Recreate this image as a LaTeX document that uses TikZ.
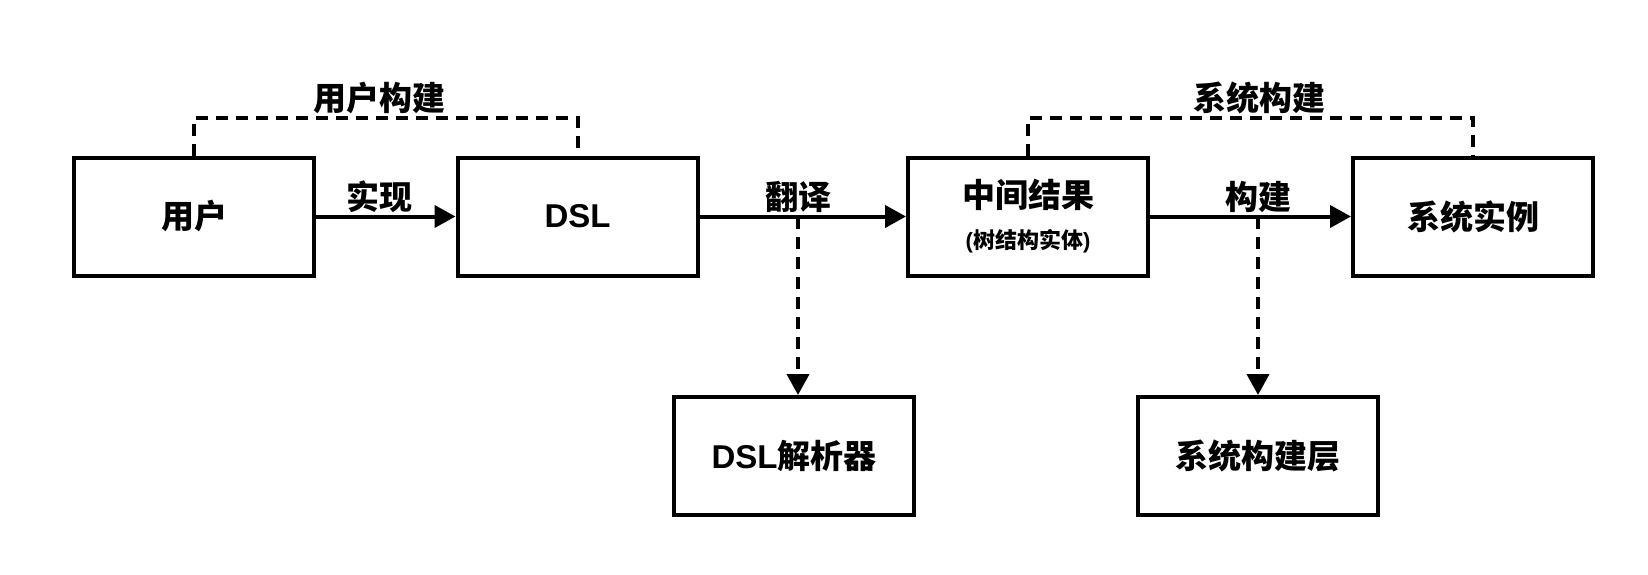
\documentclass[tikz,border=0pt]{standalone}
\usepackage{fontspec}
\setmainfont{Liberation Sans}
\newfontfamily\cjk{Noto Sans CJK SC}
\usetikzlibrary{arrows.meta}
\tikzset{
    box/.style={draw, line width=4pt, minimum width=240pt, minimum height=118pt, inner sep=0pt, align=center, font=\cjk\bfseries\fontsize{33}{41}\selectfont},
    lbl/.style={inner sep=0pt, font=\cjk\bfseries\fontsize{33}{40}\selectfont},
    flow/.style={line width=4pt, -{Triangle[length=21pt,width=22pt]}},
    dashflow/.style={flow, dash pattern=on 12pt off 8pt},
    bracket/.style={line width=4pt, dash pattern=on 12pt off 8pt}
}
\begin{document}
\begin{tikzpicture}[x=1pt, y=-1pt]
                \useasboundingbox (0,0) rectangle (1648,574);
                \node[box] (user) at (194,216.5) {用户};
                \node[box] (dsl) at (577.5,216.5) {\rmfamily DSL};
                \node[box] (mid) at (1028,216.5) {中间结果\\{\fontsize{22}{41}\selectfont{\rmfamily(}树结构实体{\rmfamily)}}};
                \node[box] (inst) at (1473,216.5) {系统实例};
                \node[box] (parser) at (794,456) {{\rmfamily DSL}解析器};
                \node[box] (layer) at (1258,456) {系统构建层};
                \draw[flow] (user) -- (dsl);
                \draw[flow] (dsl) -- (mid);
                \draw[flow] (mid) -- (inst);
                \node[lbl] (impl) at (379,197) {实现};
                \node[lbl] (trans) at (798,197) {翻译};
                \node[lbl] (build) at (1258,197) {构建};
                \coordinate (tsplit) at (798,217);
                \coordinate (bsplit) at (1258,217);
                \draw[dashflow] (tsplit) -- (tsplit |- parser.north);
                \draw[dashflow] (bsplit) -- (bsplit |- layer.north);
                \draw[bracket] (user.north) -- ++(0,-38) -| (dsl.north);
                \draw[bracket] (mid.north) -- ++(0,-38) -| (inst.north);
                \node[lbl] (ubuild) at (379,98) {用户构建};
                \node[lbl] (sbuild) at (1259,98) {系统构建};
\end{tikzpicture}
\end{document}
